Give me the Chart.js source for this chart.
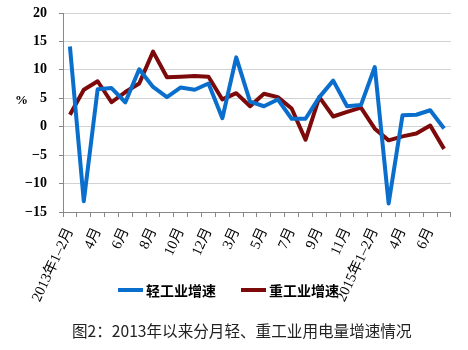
<!DOCTYPE html>
<html>
<head>
<meta charset="utf-8">
<script src="https://cdn.jsdelivr.net/npm/chart.js@4"></script>
<style>
  body { margin: 0; background: #fff; }
  #wrap { position: relative; width: 468px; height: 350px; }
  #pct { position: absolute; left: 15px; top: 92px; font: bold 13px "Liberation Serif", serif; }
  #legenda { position: absolute; left: 118px; top: 280px; font: bold 14px "Noto Sans CJK SC", sans-serif; display: flex; }
  #legenda .item { display: flex; align-items: center; margin-right: 25px; }
  #legenda .linha { width: 25px; height: 3.5px; margin-right: 3px; }
  #titulo { position: absolute; left: 72px; top: 319px; font: 15.6px "Noto Sans CJK SC", sans-serif; color: #222; white-space: nowrap; }
</style>
</head>
<body>
<div id="wrap">
  <canvas id="grafico" width="468" height="350"></canvas>
  <div id="pct">%</div>
  <div id="legenda"></div>
  <div id="titulo">图2：2013年以来分月轻、重工业用电量增速情况</div>
</div>
<script>
// Dados
const meses = [
  '2013年1–2月', '3月', '4月', '5月', '6月', '7月', '8月', '9月', '10月', '11月', '12月',
  '2014年1–2月', '3月', '4月', '5月', '6月', '7月', '8月', '9月', '10月', '11月', '12月',
  '2015年1–2月', '3月', '4月', '5月', '6月', '7月'
];
const leve = [14.1, -13.1, 6.6, 6.8, 4.3, 10.1, 7.0, 5.2, 6.9, 6.5, 7.6,
  1.5, 12.2, 4.4, 3.6, 4.8, 1.4, 1.4, 5.2, 8.1, 3.6, 3.8,
  10.5, -13.5, 2.0, 2.1, 2.9, -0.3];
const pesada = [2.1, 6.5, 8.0, 4.3, 6.1, 7.6, 13.2, 8.7, 8.8, 8.9, 8.8,
  4.8, 5.9, 3.6, 5.8, 5.2, 3.2, -2.3, 5.2, 1.8, 2.6, 3.35,
  -0.35, -2.4, -1.7, -1.2, 0.2, -3.9];
const nomes = ['轻工业增速', '重工业增速'];
const cores = ['#0a6fcc', '#7d0a0a'];
const yTicks = [-15, -10, -5, 0, 5, 10, 15, 20];

// Legenda
document.getElementById('legenda').innerHTML = nomes.map((n, i) => `
  <div class="item"><span class="linha" style="background:${cores[i]}"></span>${n}</div>
`).join('');

const serie = (nome, dados, cor) => ({
  label: nome, data: dados, borderColor: cor, backgroundColor: cor,
  borderWidth: 4, borderJoinStyle: 'round', pointRadius: 0, tension: 0
});

new Chart(document.getElementById('grafico'), {
  type: 'line',
  data: {
    labels: meses,
    datasets: [serie(nomes[0], leve, cores[0]), serie(nomes[1], pesada, cores[1])]
  },
  options: {
    responsive: false,
    animation: false,
    layout: { padding: { left: 0, right: 9, top: 13, bottom: 0 } },
    plugins: { legend: { display: false }, tooltip: { enabled: false } },
    scales: {
      x: {
        offset: true,
        afterFit: s => { s.height = 138; },
        grid: { offset: true, drawOnChartArea: false, tickLength: 5, tickColor: '#888' },
        border: { color: '#888' },
        ticks: {
          autoSkip: false, maxRotation: 65, minRotation: 65, padding: 8,
          color: '#000', font: { family: '"Liberation Serif", "Noto Sans CJK SC"', size: 14.5 },
          callback: (v, i) => i % 2 === 0 ? meses[i] : ''
        }
      },
      y: {
        min: -15, max: 20,
        // largura fixa e sem folga extra no topo
        afterFit: s => { s.width = 63; s.paddingTop = 7; s.paddingBottom = 7; },
        afterBuildTicks: s => { s.ticks = yTicks.map(v => ({ value: v })); },
        grid: { color: '#d2d2d2', tickColor: '#888', tickLength: 4 },
        border: { color: '#888' },
        ticks: {
          padding: 12, color: '#000',
          font: { family: '"Liberation Serif", serif', size: 14, weight: 'bold' },
          callback: v => v < 0 ? '−' + Math.abs(v) : v
        }
      }
    }
  }
});
</script>
</body>
</html>
